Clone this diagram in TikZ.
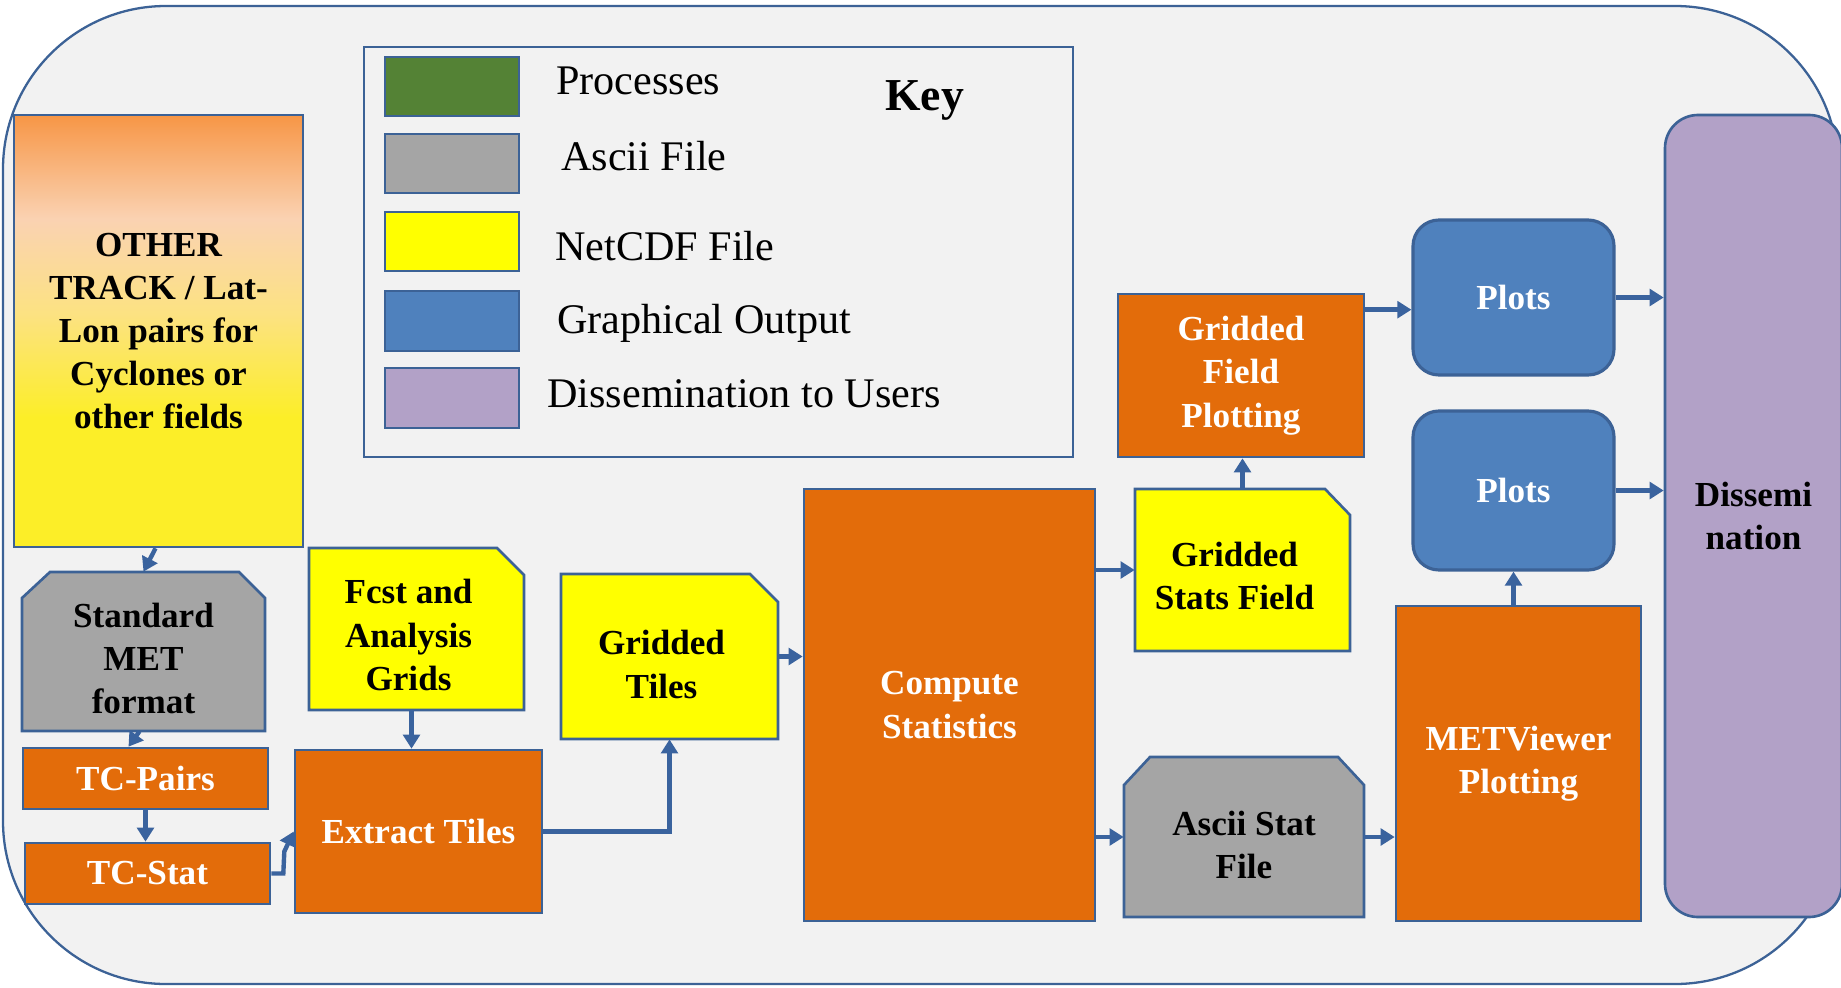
\documentclass[tikz,border=0pt]{standalone}
\usepackage{fontspec}
\setmainfont{Liberation Serif}
\usetikzlibrary{arrows.meta,calc}
\definecolor{bord}{RGB}{60,98,150}
\definecolor{arrc}{RGB}{58,99,158}
\definecolor{orng}{RGB}{227,108,10}
\definecolor{gryf}{RGB}{165,165,165}
\definecolor{bluef}{RGB}{79,129,189}
\definecolor{purpf}{RGB}{178,161,199}
\definecolor{grnf}{RGB}{84,130,53}
\definecolor{bgc}{RGB}{242,242,242}
\definecolor{ylwf}{RGB}{255,255,0}
\definecolor{shO}{RGB}{247,150,70}
\definecolor{shP}{RGB}{250,210,178}
\definecolor{shQ}{RGB}{252,226,130}
\definecolor{shY}{RGB}{252,238,40}
\pgfdeclareverticalshading{othershade}{100bp}{color(0bp)=(shY); color(25bp)=(shY); color(40bp)=(shY); color(52bp)=(shQ); color(63bp)=(shP); color(75bp)=(shO); color(100bp)=(shO)}
\newcommand\bfnt{\fontsize{20}{24.6}\selectfont\bfseries}
\newcommand\lgfnt{\fontsize{24}{28}\selectfont}
\begin{document}
\begin{tikzpicture}[x=0.02cm,y=-0.02cm,
  pos/.style args={#1,#2,#3,#4}{minimum width={(#3-#1)*0.02cm}, minimum height={(#4-#2)*0.02cm}, at={(#1/2+#3/2,#2/2+#4/2)}},
  box/.style={draw=bord, line width=1.5pt, inner sep=0pt, align=center, font=\bfnt},
  proc/.style={box, fill=orng, text=white},
  btext/.style={inner sep=0pt, align=center, font=\bfnt},
  shp/.style={draw=bord, line width=1.5pt},
  swatch/.style={draw=bord, line width=1.5pt, inner sep=0pt},
  legtxt/.style={inner sep=0pt, font=\lgfnt, anchor=base west},
  arr/.style={draw=arrc, line width=2.5pt, -{Triangle[length=8pt,width=9.5pt]}}]
\useasboundingbox (0,0) rectangle (1841,987);
\fill[white] (0,0) rectangle (1841,987);
\draw[bord, line width=1.3pt, fill=bgc, rounded corners=3.26cm] (3,6) rectangle (1838,984);

% legend
\node[box, line width=1.3pt, pos={364,47,1073,457}] (leg) {};
\node[swatch, fill=grnf, pos={385,57,519,116}] (kp) {};
\node[swatch, fill=gryf, pos={385,134,519,193}] (ka) {};
\node[swatch, fill=ylwf, pos={385,212,519,271}] (kn) {};
\node[swatch, fill=bluef, pos={385,291,519,351}] (kg) {};
\node[swatch, fill=purpf, pos={385,368,519,428}] (kd) {};
\node[legtxt] (lp) at (556,94) {Processes};
\node[legtxt] (la) at (561,170) {Ascii File};
\node[legtxt] (ln) at (555,260) {NetCDF File};
\node[legtxt] (lg) at (557,333) {Graphical Output};
\node[legtxt] (ld) at (547,407) {Dissemination to Users};
\node[legtxt, font=\fontsize{26}{30}\selectfont\bfseries] (key) at (885,110) {Key};

% OTHER TRACK box
\node[box, shading=othershade, pos={14,115,303,547}] (other) {OTHER\\TRACK / Lat-\\Lon pairs for\\Cyclones or\\other fields};

% Standard MET format
\filldraw[shp, fill=gryf] (22,598) -- (50,572) -- (239,572) -- (265,598) -- (265,731) -- (22,731) -- cycle;
\node[btext, pos={22,572,265,731}] (std) {};
\node[btext] (stdt) at ($(std)+(0,7)$) {Standard\\MET\\format};

\node[proc, pos={23,748,268,809}] (tcp) {TC-Pairs};
\node[proc, pos={25,843,270,904}] (tcs) {TC-Stat};
\node[proc, pos={295,750,542,913}] (ext) {Extract Tiles};

% Fcst and Analysis Grids
\filldraw[shp, fill=ylwf] (309,548) -- (497,548) -- (524,575) -- (524,710) -- (309,710) -- cycle;
\node[btext, pos={309,548,524,710}] (fcst) {};
\node[btext] (fcstt) at ($(fcst)+(-8,6)$) {Fcst and\\Analysis\\Grids};

% Gridded Tiles
\filldraw[shp, fill=ylwf] (561,574) -- (750,574) -- (778,602) -- (778,739) -- (561,739) -- cycle;
\node[btext, pos={561,574,778,739}] (gt) {};
\node[btext] (gtt) at ($(gt)+(-8,8)$) {Gridded\\Tiles};

\node[proc, pos={804,489,1095,921}] (cs) {Compute\\Statistics};

% Gridded Stats Field
\filldraw[shp, fill=ylwf] (1135,489) -- (1325,489) -- (1350,515) -- (1350,651) -- (1135,651) -- cycle;
\node[btext, pos={1135,489,1350,651}] (gsf) {};
\node[btext] (gsft) at ($(gsf)+(-8,6)$) {Gridded\\Stats Field};

\node[proc, pos={1118,294,1364,457}] (gfp) {Gridded\\Field\\Plotting};

% Ascii Stat File
\filldraw[shp, fill=gryf] (1124,785) -- (1150,757) -- (1338,757) -- (1364,785) -- (1364,917) -- (1124,917) -- cycle;
\node[btext, pos={1124,757,1364,917}] (asf) {};
\node[btext] (asft) at ($(asf)+(0,8)$) {Ascii Stat\\File};

\node[proc, pos={1396,606,1641,921}] (mv) {METViewer\\Plotting};

\node[box, fill=bluef, text=white, line width=1.8pt, rounded corners=0.52cm, pos={1413,220,1614,375}] (p1) {Plots};
\node[box, fill=bluef, text=white, line width=1.8pt, rounded corners=0.52cm, pos={1413,411,1614,570}] (p2) {Plots};
\node[box, fill=purpf, rounded corners=0.66cm, pos={1665,115,1842,917}] (dis) {Dissemi\\nation};

% connectors
\draw[arr] ($(other.south)+(-3,0)$) -- (std.north);
\draw[arr] ($(std.south)+(-4,0)$) -- ($(tcp.north)+(-17,0)$);
\draw[arr] (tcp.south) -- (tcp.south |- tcs.north);
\draw[arr] (tcs.east) -- ++(12,0) -- ++(1,-22) -- (ext.west);
\draw[arr] ($(fcst.south)+(-5,0)$) coordinate (f1) -- (f1 |- ext.north);
\draw[arr, line width=2.9pt] (ext.east) -| (gt.south);
\draw[arr] (gt.east) -- (gt.east -| cs.west);
\draw[arr] (gsf.west -| cs.east) -- (gsf.west);
\draw[arr] (asf.west -| cs.east) -- (asf.west);
\draw[arr] (asf.east) -- (asf.east -| mv.west);
\draw[arr] (mv.north -| p2.south) -- (p2.south);
\draw[arr] (gsf.north) -- (gsf.north |- gfp.south);
\draw[arr] ($(gfp.north east)+(0,17)$) coordinate (g1) -- (g1 -| p1.west);
\draw[arr] (p1.east) -- (p1.east -| dis.west);
\draw[arr] (p2.east) -- (p2.east -| dis.west);
\end{tikzpicture}
\end{document}
